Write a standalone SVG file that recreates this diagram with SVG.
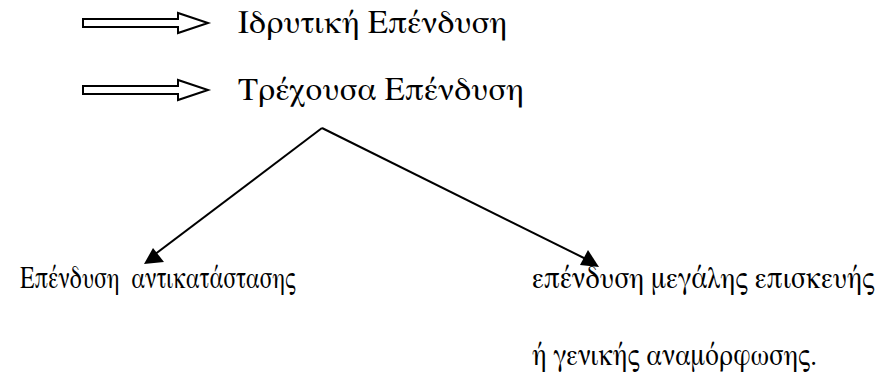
<svg xmlns="http://www.w3.org/2000/svg" width="886" height="388" viewBox="0 0 886 388">
<defs>
<style>
.t{font-family:"FreeSerif","Liberation Serif","Times New Roman",serif;font-size:33px;fill:#000;white-space:pre}
.s{font-size:31px}
.blk{fill:#fff;stroke:#000;stroke-width:2;stroke-linejoin:miter}
.ln{stroke:#000;stroke-width:2;fill:none}
.ah{fill:#000}
</style>
</defs>
<rect width="886" height="388" fill="#fff"/>
<g id="node-idrytiki">
<path class="blk" d="M83,19 H178 V13 L208,23 L178,33 V27 H83 Z"/>
<text class="t" x="238" y="33">Ιδρυτική Επένδυση</text>
</g>
<g id="node-trexousa">
<path class="blk" d="M83,86 H178 V80 L208,90 L178,100 V94 H83 Z"/>
<text class="t" x="238" y="100">Τρέχουσα Επένδυση</text>
</g>
<g id="node-antikatastasis">
<text class="t s" transform="translate(20,288) scale(0.77,1)" x="0" y="0" xml:space="preserve" textLength="358" lengthAdjust="spacingAndGlyphs">Επένδυση  αντικατάστασης</text>
</g>
<g id="node-episkevi">
<text class="t s" transform="translate(532,288) scale(0.77,1)" x="0" y="0" textLength="445" lengthAdjust="spacingAndGlyphs">επένδυση μεγάλης επισκευής</text>
<text class="t s" transform="translate(532,365) scale(0.77,1)" x="0" y="0" textLength="370" lengthAdjust="spacingAndGlyphs">ή γενικής αναμόρφωσης.</text>
</g>
<g id="connectors">
<path class="ln" d="M322,128 L150,258"/>
<path class="ln" d="M322,128 L592,262"/>
<path class="ah" d="M144,264 L153,248 L164,262 Z"/>
<path class="ah" d="M599,267 L580,265 L588,250 Z"/>
</g>
</svg>
